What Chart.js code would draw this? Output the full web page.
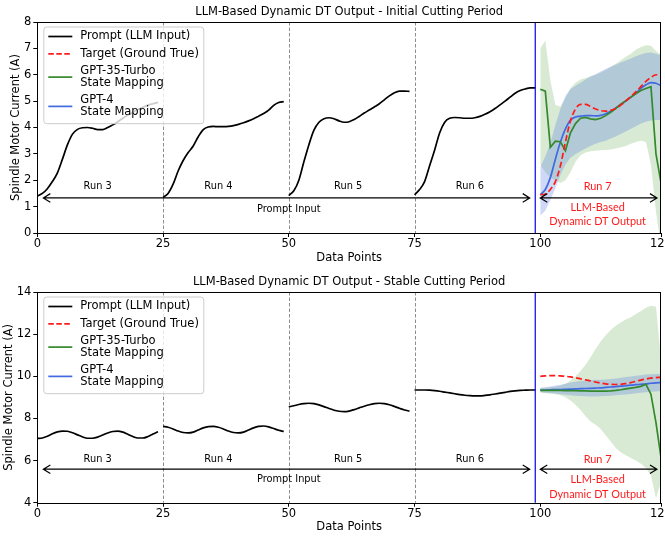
<!DOCTYPE html>
<html>
<head>
    <meta charset="UTF-8">
    <script src="https://cdn.jsdelivr.net/npm/chart.js@4.4.0/dist/chart.umd.min.js"></script>
    <style>
        html, body {
            margin: 0;
            padding: 0;
            overflow: hidden;
            background: #fff;
        }
        canvas {
            display: block;
        }
    </style>
    <title>LLM-Based Dynamic DT Output</title>
</head>
<body>
    <canvas id="initialChart" width="680" height="268"></canvas>
    <canvas id="stableChart" width="680" height="269"></canvas>

    <script>
        // x positions: prompt runs 3-6 are points 0..99, the LLM output (run 7) is 100..124
        const xTicks = [0, 25, 50, 75, 100, 124];
        const runLabels = ['Run 3', 'Run 4', 'Run 5', 'Run 6'];
        const outputRunLabel = 'Run 7';
        const runLength = 25;
        const outputStart = 100;
        const promptEnd = 99;

        // ---- Initial cutting period ----
        const initialPrompt = [
            1.40, 1.50, 1.68, 1.95, 2.28, 2.80, 3.35, 3.75, 3.93, 3.99, 4.00, 3.97, 3.92, 3.92, 4.00, 4.10, 4.22, 4.35, 4.47, 4.58, 4.68, 4.77, 4.85, 4.90, 4.95,
            1.35, 1.50, 1.85, 2.35, 2.75, 3.05, 3.30, 3.65, 3.92, 4.02, 4.04, 4.03, 4.03, 4.04, 4.07, 4.12, 4.18, 4.25, 4.33, 4.43, 4.53, 4.66, 4.84, 4.95, 4.98,
            1.42, 1.60, 2.00, 2.70, 3.35, 3.90, 4.20, 4.33, 4.37, 4.33, 4.25, 4.20, 4.22, 4.30, 4.42, 4.55, 4.66, 4.78, 4.90, 5.05, 5.20, 5.32, 5.38, 5.38, 5.37,
            1.45, 1.65, 1.95, 2.55, 3.15, 3.80, 4.20, 4.35, 4.38, 4.37, 4.35, 4.35, 4.37, 4.42, 4.50, 4.60, 4.72, 4.86, 5.00, 5.15, 5.30, 5.40, 5.46, 5.50, 5.50
        ];
        const initialTarget = [1.45, 1.48, 1.65, 1.95, 2.55, 3.45, 4.25, 4.70, 4.88, 4.88, 4.80, 4.70, 4.64, 4.62, 4.65, 4.72, 4.85, 5.00, 5.18, 5.35, 5.55, 5.75, 5.90, 6.00, 6.00];
        const initialGpt35 = [5.45, 5.38, 3.25, 3.48, 3.46, 3.12, 3.80, 4.15, 4.35, 4.38, 4.33, 4.30, 4.35, 4.45, 4.58, 4.72, 4.88, 5.02, 5.15, 5.28, 5.40, 5.48, 5.55, 3.00, 1.90];
        const initialGpt35Upper = [7.00, 7.30, 5.80, 4.85, 4.80, 5.10, 5.50, 5.70, 5.82, 5.88, 5.95, 6.00, 6.08, 6.18, 6.30, 6.42, 6.55, 6.68, 6.80, 6.95, 7.05, 7.12, 7.10, 6.90, 6.75];
        const initialGpt35Lower = [2.60, 2.30, 2.10, 2.00, 1.90, 2.00, 2.30, 2.70, 2.95, 3.05, 3.10, 3.12, 3.14, 3.15, 3.17, 3.20, 3.25, 3.30, 3.38, 3.45, 3.50, 3.45, 2.60, 0.80, -0.50];
        const initialGpt4 = [1.45, 1.65, 2.10, 2.80, 3.45, 3.95, 4.28, 4.40, 4.43, 4.45, 4.45, 4.44, 4.46, 4.52, 4.62, 4.74, 4.87, 5.00, 5.14, 5.30, 5.48, 5.62, 5.70, 5.68, 5.58];
        const initialGpt4Upper = [2.50, 2.90, 3.40, 4.10, 4.70, 5.20, 5.45, 5.58, 5.70, 5.82, 5.92, 6.02, 6.12, 6.22, 6.30, 6.38, 6.46, 6.54, 6.62, 6.70, 6.77, 6.82, 6.84, 6.80, 6.74];
        const initialGpt4Lower = [0.65, 0.85, 1.25, 1.70, 2.20, 2.60, 2.85, 3.00, 3.10, 3.20, 3.30, 3.38, 3.45, 3.50, 3.58, 3.66, 3.75, 3.85, 3.95, 4.05, 4.15, 4.22, 4.27, 4.28, 4.28];

        // ---- Stable cutting period ----
        const stablePrompt = [
            7.05, 7.07, 7.15, 7.27, 7.36, 7.40, 7.39, 7.32, 7.22, 7.12, 7.06, 7.06, 7.11, 7.21, 7.31, 7.38, 7.40, 7.35, 7.25, 7.14, 7.07, 7.07, 7.14, 7.26, 7.37,
            7.62, 7.58, 7.50, 7.40, 7.33, 7.31, 7.35, 7.45, 7.55, 7.61, 7.62, 7.58, 7.50, 7.40, 7.33, 7.31, 7.35, 7.45, 7.55, 7.62, 7.64, 7.60, 7.52, 7.44, 7.38,
            8.55, 8.60, 8.66, 8.70, 8.72, 8.70, 8.64, 8.56, 8.47, 8.39, 8.34, 8.32, 8.35, 8.42, 8.50, 8.58, 8.65, 8.70, 8.72, 8.70, 8.65, 8.57, 8.48, 8.40, 8.35,
            9.35, 9.35, 9.35, 9.34, 9.32, 9.29, 9.25, 9.21, 9.17, 9.13, 9.10, 9.08, 9.07, 9.07, 9.09, 9.12, 9.16, 9.20, 9.24, 9.28, 9.31, 9.33, 9.34, 9.35, 9.35
        ];
        const stableTarget = [10.00, 10.02, 10.03, 10.03, 10.02, 10.00, 9.97, 9.93, 9.88, 9.83, 9.78, 9.73, 9.68, 9.64, 9.62, 9.61, 9.62, 9.65, 9.70, 9.76, 9.82, 9.87, 9.91, 9.94, 9.95];
        const stableGpt35 = [9.33, 9.33, 9.33, 9.33, 9.33, 9.32, 9.32, 9.32, 9.31, 9.31, 9.30, 9.30, 9.30, 9.30, 9.31, 9.33, 9.36, 9.40, 9.44, 9.47, 9.52, 9.62, 9.15, 7.80, 6.15];
        const stableGpt35Upper = [9.45, 9.46, 9.48, 9.50, 9.55, 9.65, 9.80, 10.00, 10.25, 10.55, 10.90, 11.30, 11.65, 11.95, 12.20, 12.40, 12.55, 12.70, 12.80, 12.95, 13.10, 13.25, 13.35, 13.30, 10.80];
        const stableGpt35Lower = [9.22, 9.20, 9.18, 9.15, 9.10, 9.00, 8.85, 8.65, 8.40, 8.10, 7.85, 7.70, 7.50, 7.20, 6.90, 6.60, 6.40, 6.25, 6.12, 6.00, 5.85, 5.65, 5.30, 4.20, 5.00];
        const stableGpt4 = [9.35, 9.35, 9.36, 9.37, 9.37, 9.38, 9.39, 9.40, 9.41, 9.42, 9.43, 9.44, 9.45, 9.47, 9.49, 9.51, 9.53, 9.55, 9.58, 9.60, 9.62, 9.64, 9.67, 9.69, 9.70];
        const stableGpt4Upper = [9.45, 9.48, 9.52, 9.56, 9.60, 9.65, 9.70, 9.74, 9.78, 9.80, 9.82, 9.83, 9.84, 9.85, 9.87, 9.90, 9.93, 9.96, 9.99, 10.02, 10.05, 10.08, 10.10, 10.11, 10.12];
        const stableGpt4Lower = [9.25, 9.22, 9.20, 9.18, 9.15, 9.12, 9.10, 9.08, 9.06, 9.05, 9.04, 9.04, 9.05, 9.06, 9.08, 9.10, 9.12, 9.14, 9.16, 9.19, 9.22, 9.24, 9.26, 9.28, 9.30];

        const FONT = "'DejaVu Sans', sans-serif";
        const RED = '#ff1a1a';
        const GREEN = '#33892c';
        const BLUE = '#4169e1';

        const legendEntries = [
            { lines: ['Prompt (LLM Input)'], color: '#000', dash: [] },
            { lines: ['Target (Ground True)'], color: RED, dash: [5.5, 2.5] },
            { lines: ['GPT-35-Turbo', 'State Mapping'], color: GREEN, dash: [] },
            { lines: ['GPT-4', 'State Mapping'], color: BLUE, dash: [] }
        ];

        function points(values, start) {
            return values.map((v, i) => ({ x: start + i, y: v }));
        }

        function lineSet(values, start, color, extra) {
            return Object.assign({
                data: points(values, start),
                borderColor: color,
                borderWidth: 1.7,
                pointRadius: 0,
                fill: false,
                cubicInterpolationMode: 'monotone'
            }, extra || {});
        }

        function bandSet(values, color, fill) {
            return {
                data: points(values, outputStart),
                borderWidth: 0,
                borderColor: 'rgba(0,0,0,0)',
                backgroundColor: color,
                pointRadius: 0,
                tension: 0,
                fill: fill
            };
        }

        function buildDatasets(p) {
            const ds = [
                lineSet(p.target, outputStart, RED, { borderDash: [6, 3] }),
                lineSet(p.gpt35, outputStart, GREEN, { cubicInterpolationMode: 'default', tension: 0 }),
                lineSet(p.gpt4, outputStart, BLUE)
            ];
            for (let r = 0; r < runLabels.length; r++) {
                ds.push(lineSet(p.prompt.slice(r * runLength, (r + 1) * runLength), r * runLength, '#000'));
            }
            ds.push(bandSet(p.gpt4Upper, 'rgba(65,105,225,0.25)', false));
            ds.push(bandSet(p.gpt4Lower, 'rgba(65,105,225,0.25)', '-1'));
            ds.push(bandSet(p.gpt35Upper, 'rgba(60,150,40,0.2)', false));
            ds.push(bandSet(p.gpt35Lower, 'rgba(60,150,40,0.2)', '-1'));
            return ds;
        }

        function drawArrow(ctx, x1, x2, y) {
            const hl = 7, hw = 4.3;
            ctx.beginPath();
            ctx.moveTo(x1, y);
            ctx.lineTo(x2, y);
            ctx.moveTo(x1 + hl, y - hw);
            ctx.lineTo(x1, y);
            ctx.lineTo(x1 + hl, y + hw);
            ctx.moveTo(x2 - hl, y - hw);
            ctx.lineTo(x2, y);
            ctx.lineTo(x2 - hl, y + hw);
            ctx.stroke();
        }

        function drawLegend(ctx, a) {
            const bx = a.left + 6, by = a.top + 4.5, bw = 160, bh = 96.7;
            ctx.save();
            ctx.fillStyle = 'rgba(255,255,255,0.8)';
            ctx.strokeStyle = '#cccccc';
            ctx.lineWidth = 1;
            ctx.beginPath();
            ctx.roundRect(bx + 0.5, by + 0.5, bw, bh, 3);
            ctx.fill();
            ctx.stroke();

            ctx.font = '11.5px ' + FONT;
            ctx.textBaseline = 'middle';
            ctx.textAlign = 'left';
            let y = by + 10;
            legendEntries.forEach(e => {
                const mid = y + (e.lines.length - 1) * 6;
                ctx.strokeStyle = e.color;
                ctx.lineWidth = 1.7;
                ctx.setLineDash(e.dash);
                ctx.beginPath();
                ctx.moveTo(bx + 5, mid);
                ctx.lineTo(bx + 29, mid);
                ctx.stroke();
                ctx.setLineDash([]);
                ctx.fillStyle = '#000';
                e.lines.forEach((t, i) => ctx.fillText(t, bx + 37, y + i * 12));
                y += e.lines.length * 12 + 5.3;
            });
            ctx.restore();
        }

        function overlayPlugin(p) {
            return {
                id: 'overlay',
                beforeDatasetsDraw(chart) {
                    const { ctx, chartArea: a, scales: { x } } = chart;
                    ctx.save();
                    ctx.strokeStyle = '#8c8c8c';
                    ctx.lineWidth = 1;
                    ctx.setLineDash([3.5, 2]);
                    for (let r = 1; r < runLabels.length; r++) {
                        const px = Math.round(x.getPixelForValue(r * runLength)) + 0.5;
                        ctx.beginPath();
                        ctx.moveTo(px, a.top);
                        ctx.lineTo(px, a.bottom);
                        ctx.stroke();
                    }
                    ctx.restore();
                },
                afterDatasetsDraw(chart) {
                    const { ctx, chartArea: a, scales: { x, y } } = chart;
                    ctx.save();

                    // prompt / output split
                    const sx = x.getPixelForValue(promptEnd);
                    ctx.strokeStyle = '#0000ff';
                    ctx.lineWidth = 1.2;
                    ctx.beginPath();
                    ctx.moveTo(sx, a.top);
                    ctx.lineTo(sx, a.bottom);
                    ctx.stroke();

                    // arrows
                    ctx.strokeStyle = '#000';
                    ctx.lineWidth = 1.2;
                    drawArrow(ctx, x.getPixelForValue(1.2), x.getPixelForValue(97.9), y.getPixelForValue(p.arrowY));
                    drawArrow(ctx, x.getPixelForValue(100), x.getPixelForValue(123.2), y.getPixelForValue(p.arrowY));

                    // run labels
                    ctx.fillStyle = '#000';
                    ctx.font = '9.8px ' + FONT;
                    ctx.textAlign = 'center';
                    ctx.textBaseline = 'middle';
                    const runX = [12, 36, 61.8, 86];
                    runLabels.forEach((t, i) => ctx.fillText(t, x.getPixelForValue(runX[i]), y.getPixelForValue(p.runY)));
                    ctx.fillText('Prompt Input', x.getPixelForValue(50), y.getPixelForValue(p.promptTextY));

                    ctx.fillStyle = RED;
                    ctx.font = "10.9px Lato, 'DejaVu Sans', sans-serif";
                    const ox = x.getPixelForValue(111.4);
                    ctx.fillText(outputRunLabel, ox, y.getPixelForValue(p.runY));
                    ctx.fillText('LLM-Based', ox, y.getPixelForValue(p.llmY[0]));
                    ctx.fillText('Dynamic DT Output', ox, y.getPixelForValue(p.llmY[1]));

                    // axes frame
                    ctx.strokeStyle = '#000';
                    ctx.lineWidth = 1;
                    ctx.strokeRect(Math.round(a.left) + 0.5, Math.round(a.top) + 0.5,
                        Math.round(a.right - a.left) - 1, Math.round(a.bottom - a.top));
                    ctx.restore();

                    drawLegend(ctx, a);
                }
            };
        }

        function makeChart(id, p) {
            const tickFont = { family: FONT, size: 11.5 };
            new Chart(document.getElementById(id), {
                type: 'line',
                data: { datasets: buildDatasets(p) },
                plugins: [overlayPlugin(p)],
                options: {
                    responsive: false,
                    animation: false,
                    layout: { padding: { left: 0, right: 19, top: 0, bottom: 0 } },
                    plugins: {
                        legend: { display: false },
                        tooltip: { enabled: false },
                        title: {
                            display: true,
                            text: p.title,
                            color: '#000',
                            fullSize: false,
                            font: { family: FONT, size: 11.5, weight: 'normal' },
                            padding: p.titlePadding
                        }
                    },
                    scales: {
                        x: {
                            type: 'linear',
                            min: 0,
                            max: 124,
                            afterBuildTicks: s => { s.ticks = xTicks.map(v => ({ value: v })); },
                            afterFit: s => { s.height = p.xAxisHeight; },
                            ticks: { color: '#000', font: tickFont, padding: 0, maxRotation: 0, autoSkip: false },
                            grid: { drawOnChartArea: false, drawTicks: true, tickLength: 4, color: '#000' },
                            border: { display: false },
                            title: {
                                display: true,
                                text: 'Data Points',
                                color: '#000',
                                font: tickFont,
                                padding: { top: 0, bottom: 3 }
                            }
                        },
                        y: {
                            min: p.yMin,
                            max: p.yMax,
                            afterFit: s => { s.width = 37.3; },
                            ticks: { stepSize: p.yStep, color: '#000', font: tickFont, padding: 2 },
                            grid: { drawOnChartArea: false, drawTicks: true, tickLength: 4, color: '#000' },
                            border: { display: false },
                            title: {
                                display: true,
                                text: 'Spindle Motor Current (A)',
                                color: '#000',
                                font: tickFont,
                                padding: { top: p.yTitlePad, bottom: 0 }
                            }
                        }
                    }
                }
            });
        }

        makeChart('initialChart', {
            title: 'LLM-Based Dynamic DT Output - Initial Cutting Period',
            titlePadding: { top: 5, bottom: 3.2 },
            xAxisHeight: 35,
            yMin: 0, yMax: 8, yStep: 1, yTitlePad: 9,
            prompt: initialPrompt, target: initialTarget,
            gpt35: initialGpt35, gpt35Upper: initialGpt35Upper, gpt35Lower: initialGpt35Lower,
            gpt4: initialGpt4, gpt4Upper: initialGpt4Upper, gpt4Lower: initialGpt4Lower,
            arrowY: 1.33, runY: 1.78, promptTextY: 0.9, llmY: [0.96, 0.43]
        });

        makeChart('stableChart', {
            title: 'LLM-Based Dynamic DT Output - Stable Cutting Period',
            titlePadding: { top: 7, bottom: 3.2 },
            xAxisHeight: 34.3,
            yMin: 4, yMax: 14, yStep: 2, yTitlePad: 2,
            prompt: stablePrompt, target: stableTarget,
            gpt35: stableGpt35, gpt35Upper: stableGpt35Upper, gpt35Lower: stableGpt35Lower,
            gpt4: stableGpt4, gpt4Upper: stableGpt4Upper, gpt4Lower: stableGpt4Lower,
            arrowY: 5.59, runY: 6.07, promptTextY: 5.08, llmY: [5.08, 4.37]
        });
    </script>
</body>
</html>
